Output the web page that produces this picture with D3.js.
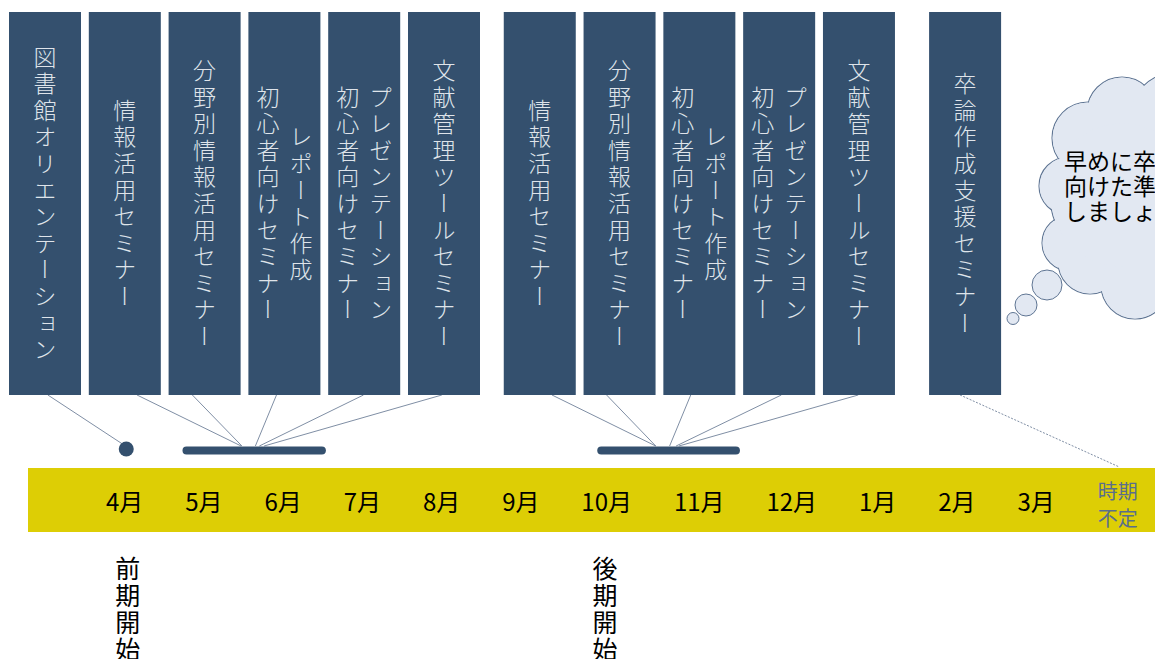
<!DOCTYPE html>
<html lang="ja">
<head>
<meta charset="utf-8">
<script src="https://cdn.jsdelivr.net/npm/d3@7"></script>
<style>
  html, body { margin: 0; padding: 0; background: #ffffff; overflow: hidden; }
  svg { display: block; font-family: "Noto Sans CJK JP", "Noto Sans", sans-serif; }
</style>
</head>
<body>
<svg id="chart" width="1155" height="659"></svg>
<script>
// ---------------- data ----------------
const months = ["4月","5月","6月","7月","8月","9月","10月","11月","12月","1月","2月","3月","時期不定"];

const seminarLines = [
  ["図書館オリエンテーション"],
  ["情報活用セミナー"],
  ["分野別情報活用セミナー"],
  ["レポート作成", "初心者向けセミナー"],
  ["プレゼンテーション", "初心者向けセミナー"],
  ["文献管理ツールセミナー"],
  ["情報活用セミナー"],
  ["分野別情報活用セミナー"],
  ["レポート作成", "初心者向けセミナー"],
  ["プレゼンテーション", "初心者向けセミナー"],
  ["文献管理ツールセミナー"],
  ["卒論作成支援セミナー"]
];
// 0 = 前期, 1 = 後期, 2 = 時期不定
const seminarGroup = [0,0,0,0,0,0,1,1,1,1,1,2];
// where each connector leaves the box bottom (fraction of box width)
const linkFrom = [0.54,0.67,0.33,0.39,0.49,0.47,0.67,0.32,0.38,0.53,0.49,0.43];
// month position (index into months) each connector points to
const linkTo   = [0.03,1.47,1.48,1.65,1.70,1.76,6.53,6.53,6.68,6.75,6.78,12.02];
const linkKind = ["dot","bar","bar","bar","bar","bar","bar","bar","bar","bar","bar","band"];

// single-day event (dot) and period bars, in month-index units
const eventMonths = [0.02];
const periodStart = [0.73, 5.89];
const periodEnd   = [2.54, 7.44];

const termLabels = ["前期開始", "後期開始"];
const termMonths = [0.04, 5.98];

const cloudLines = ["早めに卒論に", "向けた準備を", "しましょう"];

// ---------------- layout ----------------
const svg = d3.select("#chart");
const W = 1155, H = 659;

const COL_BOX = "#34506e";
const COL_TEXT_BOX = "#dfe4ea";
const COL_LINK = "#70819a";
const COL_BAND = "#ddce05";
const COL_UNDEF = "#5a6e8c";

const boxTop = 12, boxBottom = 395, boxW = 72;
const groupExtra = [0, 0.2, 0.53];
const slotScale = d3.scaleLinear().domain([0, 1]).range([9, 88.8]);
const boxX = seminarLines.map((_, i) => slotScale(i + groupExtra[seminarGroup[i]]));

const bandTop = 468, bandBottom = 532;
const bandY = (bandTop + bandBottom) / 2;

// ---- yellow month band ----
svg.append("rect")
  .attr("x", 28).attr("y", bandTop)
  .attr("width", W - 28).attr("height", bandBottom - bandTop)
  .attr("fill", COL_BAND);

// month labels: laid out with an even gap between label edges
const monthG = svg.append("g");
const monthFont = 24, gap = 41.9;
let cursor = 106;
const centers = [];
months.forEach((m, i) => {
  if (i < months.length - 1) {
    const t = monthG.append("text")
      .attr("x", cursor).attr("y", bandY)
      .attr("dominant-baseline", "central")
      .attr("font-size", monthFont)
      .attr("fill", "#000")
      .text(m);
    const w = t.node().getComputedTextLength();
    centers.push(cursor + w / 2);
    t.attr("x", cursor + w / 2).attr("text-anchor", "middle");
    cursor += w + gap;
  } else {
    const w = 40;
    centers.push(cursor + w / 2 + 1);
  }
});
const x = d3.scaleLinear().domain(d3.range(months.length)).range(centers);

// the "時期不定" label in two lines
const undefText = months[months.length - 1];
const undefLines = [undefText.slice(0, 2), undefText.slice(2)];
monthG.selectAll("text.undef").data(undefLines).join("text")
  .attr("class", "undef")
  .attr("x", x(months.length - 1))
  .attr("y", (d, i) => 490 + i * 27)
  .attr("text-anchor", "middle")
  .attr("dominant-baseline", "central")
  .attr("font-size", 20)
  .attr("fill", COL_UNDEF)
  .text(d => d);

// ---- connectors ----
const linkG = svg.append("g");
seminarLines.forEach((_, i) => {
  const x1 = boxX[i] + linkFrom[i] * boxW;
  const x2 = x(linkTo[i]);
  const y2 = linkKind[i] === "dot" ? 447 : (linkKind[i] === "band" ? bandTop - 1 : 446);
  linkG.append("line")
    .attr("x1", x1).attr("y1", boxBottom)
    .attr("x2", x2).attr("y2", y2)
    .attr("stroke", COL_LINK)
    .attr("stroke-width", 0.9)
    .attr("stroke-dasharray", linkKind[i] === "band" ? "2,1.5" : null);
});

// ---- event dot and period bars ----
svg.selectAll("circle.event").data(eventMonths).join("circle")
  .attr("class", "event")
  .attr("cx", d => x(d)).attr("cy", 449)
  .attr("r", 7.5)
  .attr("fill", COL_BOX);

const capR = 4;
svg.selectAll("line.period").data(periodStart).join("line")
  .attr("class", "period")
  .attr("x1", d => x(d) + capR)
  .attr("x2", (d, i) => x(periodEnd[i]) - capR)
  .attr("y1", 450.5).attr("y2", 450.5)
  .attr("stroke", COL_BOX)
  .attr("stroke-width", 8)
  .attr("stroke-linecap", "round");

// ---- seminar boxes ----
const boxG = svg.selectAll("g.box").data(seminarLines).join("g")
  .attr("class", "box")
  .attr("transform", (d, i) => `translate(${boxX[i]},0)`);

boxG.append("rect")
  .attr("x", 0).attr("y", boxTop)
  .attr("width", boxW).attr("height", boxBottom - boxTop)
  .attr("fill", COL_BOX);

boxG.each(function(lines) {
  const g = d3.select(this);
  const n = lines.length;
  const colGap = 33;
  lines.forEach((ln, j) => {
    // vertical writing: first line on the right
    const cx = boxW / 2 + ((n - 1) / 2 - j) * colGap;
    g.append("text")
      .attr("x", cx)
      .attr("y", (boxTop + boxBottom) / 2 + 1.5)
      .attr("text-anchor", "middle")
      .attr("font-size", 23)
      .attr("font-weight", 300)
      .attr("letter-spacing", 3.6)
      .attr("fill", COL_TEXT_BOX)
      .style("writing-mode", "vertical-rl")
      .text(ln);
  });
});

// ---- term start labels (vertical) ----
svg.selectAll("text.term").data(termLabels).join("text")
  .attr("class", "term")
  .attr("x", (d, i) => x(termMonths[i]))
  .attr("y", 556)
  .attr("text-anchor", "start")
  .attr("font-size", 25)
  .attr("letter-spacing", 2)
  .attr("fill", "#000")
  .style("writing-mode", "vertical-rl")
  .text(d => d);

// ---- thought cloud ----
const cloudG = svg.append("g");
const cloudCircles = [
  [1088,138,36],[1122,112,35],[1178,122,50],[1068,186,29],[1070,243,28],
  [1090,262,32],[1135,285,34],[1122,195,72],[1180,250,60]
];
const bubbles = [[1047,285,15],[1026,305,11],[1013,318.5,6]];
const COL_CLOUD = "#e2e8f2", COL_CLOUD_STROKE = "#5f7593";

cloudG.selectAll("circle.bub").data(bubbles).join("circle")
  .attr("class", "bub")
  .attr("cx", d => d[0]).attr("cy", d => d[1]).attr("r", d => d[2])
  .attr("fill", COL_CLOUD).attr("stroke", COL_CLOUD_STROKE).attr("stroke-width", 1);
cloudG.selectAll("circle.outl").data(cloudCircles).join("circle")
  .attr("class", "outl")
  .attr("cx", d => d[0]).attr("cy", d => d[1]).attr("r", d => d[2])
  .attr("fill", COL_CLOUD).attr("stroke", COL_CLOUD_STROKE).attr("stroke-width", 1.1);
cloudG.selectAll("circle.fill").data(cloudCircles).join("circle")
  .attr("class", "fill")
  .attr("cx", d => d[0]).attr("cy", d => d[1]).attr("r", d => d[2] - 0.6)
  .attr("fill", COL_CLOUD);

cloudG.selectAll("text").data(cloudLines).join("text")
  .attr("x", 1064)
  .attr("y", (d, i) => 160 + i * 25)
  .attr("dominant-baseline", "central")
  .attr("font-size", 23)
  .attr("fill", "#000")
  .text(d => d);
</script>
</body>
</html>
